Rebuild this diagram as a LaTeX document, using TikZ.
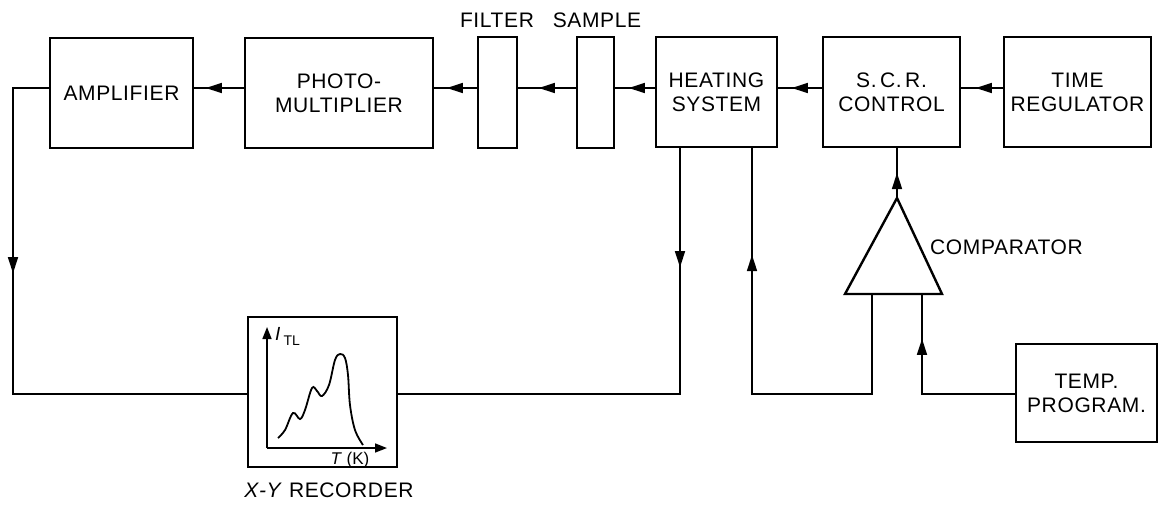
\documentclass[tikz,border=0pt]{standalone}
\usepackage{fontspec}
\setmainfont{Liberation Sans}
\usetikzlibrary{arrows.meta,decorations.markings}
\tikzset{
  blk/.style={draw,line width=2.4pt,inner sep=0pt,align=center,font=\fontsize{21}{24}\selectfont\addfontfeature{LetterSpace=3}},
  conn/.style={line width=1.6pt},
  arr/.style={postaction={decorate},decoration={markings,mark=at position #1 with {\arrow{Triangle[length=16pt,width=10pt]}}}},
  lbl/.style={inner sep=0pt,font=\fontsize{21}{24}\selectfont\addfontfeature{LetterSpace=3}}
}
\begin{document}
\begin{tikzpicture}[x=1pt,y=-1pt]
\useasboundingbox (0,0) rectangle (1160,504);
% blocks
\node[blk,minimum width=143pt,minimum height=110pt] (amp) at (121.5,93) {AMPLIFIER};
\node[blk,minimum width=188pt,minimum height=110pt] (pm) at (339,93) {PHOTO-\\MULTIPLIER};
\node[blk,minimum width=39pt,minimum height=111pt] (filter) at (497.5,92.5) {};
\node[blk,minimum width=37pt,minimum height=111pt] (sample) at (595.5,92.5) {};
\node[blk,minimum width=121pt,minimum height=110pt] (heat) at (716.5,92) {HEATING\\SYSTEM};
\node[blk,minimum width=137pt,minimum height=110pt] (scr) at (891.5,92) {S.\,C.\,R.\\CONTROL};
\node[blk,minimum width=147pt,minimum height=110pt] (treg) at (1077.5,92) {TIME\\REGULATOR};
\node[blk,minimum width=141pt,minimum height=98pt] (tprog) at (1086.5,393) {TEMP.\\PROGRAM.};
\node[blk,minimum width=149pt,minimum height=150pt] (rec) at (322.5,392) {};
% labels
\node[lbl] (lfilter) at (497,20) {FILTER};
\node[lbl] (lsample) at (597,20) {SAMPLE};
\node[lbl,anchor=west] (lcomp) at (930,247) {COMPARATOR};
\node[lbl] (lrec) at (329,490) {\textit{X-Y} RECORDER};
% comparator
\coordinate (capex) at (897,198);
\coordinate (cbl) at (845,294);
\coordinate (cbr) at (942,294);
\coordinate (cl) at (872,294);
\coordinate (cr) at (922,294);
\draw[line width=2.4pt,line join=miter] (capex) -- (cbr) -- (cbl) -- cycle;
% helper coordinates
\coordinate (my) at (0,88);
\coordinate (by) at (0,394);
\coordinate (lx) at (13,0);
\coordinate (hl) at (680,0);
\coordinate (hr) at (752,0);
% top chain
\draw[conn,arr=27pt] (treg.west|-my) -- (scr.east|-my);
\draw[conn,arr=30pt] (scr.west|-my) -- (heat.east|-my);
\draw[conn,arr=26pt] (heat.west|-my) -- (sample.east|-my);
\draw[conn,arr=37pt] (sample.west|-my) -- (filter.east|-my);
\draw[conn,arr=30pt] (filter.west|-my) -- (pm.east|-my);
\draw[conn,arr=38pt] (pm.west|-my) -- (amp.east|-my);
% amplifier to recorder
\draw[conn,arr=221pt] (amp.west|-my) -- (lx|-my) -- (lx|-by) -- (rec.west|-by);
% heating to recorder
\draw[conn,arr=119pt] (hl|-heat.south) -- (hl|-by) -- (rec.east|-by);
% comparator to heating
\draw[conn,arr=359pt] (cl) -- (cl|-by) -- (hr|-by) -- (hr|-heat.south);
% temp program to comparator
\draw[conn,arr=148pt] (tprog.west|-by) -- (cr|-by) -- (cr);
% comparator to scr
\draw[conn,arr=25pt] (capex) -- (capex|-scr.south);
% recorder graph
\coordinate (gorig) at (267,448);
\coordinate (gy) at (267,327);
\coordinate (gx) at (387,448);
\draw[line width=1.6pt,-{Triangle[length=12pt,width=9pt]}] (gorig) -- (gy);
\draw[line width=1.6pt,-{Triangle[length=12pt,width=9pt]}] (gorig) -- (gx);
\draw[line width=1.8pt] plot[smooth,tension=0.6] coordinates {(278,438) (285,430) (293,413) (300,419) (305,410) (312,388) (317,391) (322,396) (329,385) (335,360) (340,354) (345,358) (348,375) (350,405) (355,430) (363,445)};
\node[inner sep=0pt,anchor=base west,font=\fontsize{19}{20}\selectfont] (ityl) at (275,340) {\textit{I}\,\raisebox{-5pt}{\fontsize{14}{16}\selectfont TL}};
\node[inner sep=0pt,anchor=base,font=\fontsize{17}{18}\selectfont] (tk) at (350,464) {\textit{T} (K)};
\end{tikzpicture}
\end{document}
